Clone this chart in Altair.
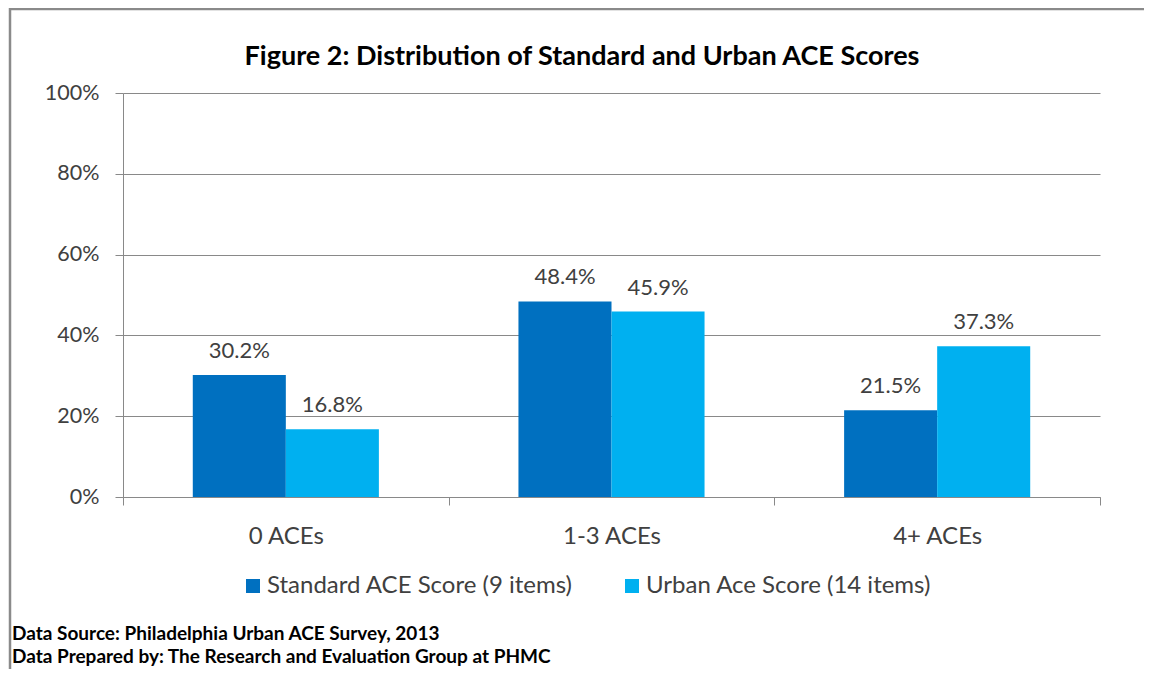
import altair as alt
import pandas as pd

categories = ["0 ACEs", "1-3 ACEs", "4+ ACEs"]
series_names = ["Standard ACE Score (9 items)", "Urban Ace Score (14 items)"]
standard_values = [30.2, 48.4, 21.5]
urban_values = [16.8, 45.9, 37.3]
y_ticks = [0, 20, 40, 60, 80, 100]
title_text = "Figure 2: Distribution of Standard and Urban ACE Scores"
footer_lines = [
    "Data Source: Philadelphia Urban ACE Survey, 2013",
    "Data Prepared by: The Research and Evaluation Group at PHMC",
]
colors = ["#0070C0", "#00B0F0"]

rows = []
for i, c in enumerate(categories):
    rows.append({"category": c, "series": series_names[0], "value": standard_values[i]})
    rows.append({"category": c, "series": series_names[1], "value": urban_values[i]})
df = pd.DataFrame(rows)

W, H = 977, 404
FONT = "Lato"
GRID = "#898989"
TEXT = "#404040"
FRAME = "#8a8a8a"

x = alt.X(
    "category:N", sort=categories, title=None,
    scale=alt.Scale(paddingInner=0, paddingOuter=0),
    axis=alt.Axis(tickBand="extent", labelAngle=0, labelFontSize=24, labelFont=FONT,
                  labelColor=TEXT, labelPadding=19, tickSize=8, tickColor=GRID,
                  domainColor=GRID, grid=False),
)
xo = alt.XOffset("series:N", sort=series_names,
                 scale=alt.Scale(paddingInner=0, paddingOuter=0.75))
y = alt.Y(
    "value:Q", title=None, scale=alt.Scale(domain=[0, 100], nice=False),
    axis=alt.Axis(values=y_ticks, labelExpr="datum.value + '%'", labelFontSize=21.5,
                  labelFont=FONT, labelColor=TEXT, labelPadding=16, tickSize=8,
                  tickColor=GRID, domainColor=GRID, grid=True, gridColor=GRID),
)
color = alt.Color(
    "series:N", sort=series_names,
    scale=alt.Scale(domain=series_names, range=colors),
    legend=alt.Legend(title=None, orient="none", direction="horizontal",
                      legendX=118, legendY=481, symbolType="square", symbolSize=196,
                      symbolStrokeWidth=0, labelFontSize=24, labelFont=FONT,
                      labelColor=TEXT, columnPadding=47, labelOffset=2, labelLimit=500),
)

base = alt.Chart(df)
bars = base.mark_bar().encode(x=x, xOffset=xo, y=y, color=color)
labels = base.transform_calculate(
    label="format(datum.value, '.1f') + '%'"
).mark_text(baseline="alphabetic", dy=-17, fontSize=22, font=FONT, color=TEXT).encode(
    x=x, xOffset=xo, y=y, text="label:N"
)

one = pd.DataFrame({"t": [0]})
frame_top = alt.Chart(one).mark_rule(color=FRAME, strokeWidth=2.5).encode(
    x=alt.value(-113), x2=alt.value(1021), y=alt.value(-84)
)
frame_left = alt.Chart(one).mark_rule(color=FRAME, strokeWidth=2.5).encode(
    x=alt.value(-113), y=alt.value(-85), y2=alt.value(580)
)

title = alt.Chart(pd.DataFrame({"t": [title_text]})).mark_text(
    fontSize=27, fontWeight="bold", font=FONT, color="#000000", align="center", baseline="middle"
).encode(x=alt.value(459), y=alt.value(-36), text="t:N")

foot1 = alt.Chart(pd.DataFrame({"t": [footer_lines[0]]})).mark_text(
    fontSize=19, fontWeight="bold", font=FONT, color="#000000", align="left", baseline="middle"
).encode(x=alt.value(-111), y=alt.value(541), text="t:N")
foot2 = alt.Chart(pd.DataFrame({"t": [footer_lines[1]]})).mark_text(
    fontSize=19, fontWeight="bold", font=FONT, color="#000000", align="left", baseline="middle"
).encode(x=alt.value(-111), y=alt.value(564), text="t:N")

chart = alt.layer(frame_top, frame_left, bars, labels, title, foot1, foot2).properties(
    width=W, height=H,
    padding={"left": 115, "top": 85, "right": 44, "bottom": 172},
    autosize="none",
).configure_view(stroke=None)

chart.save("out.html", embed_options={"renderer": "svg", "actions": False})
